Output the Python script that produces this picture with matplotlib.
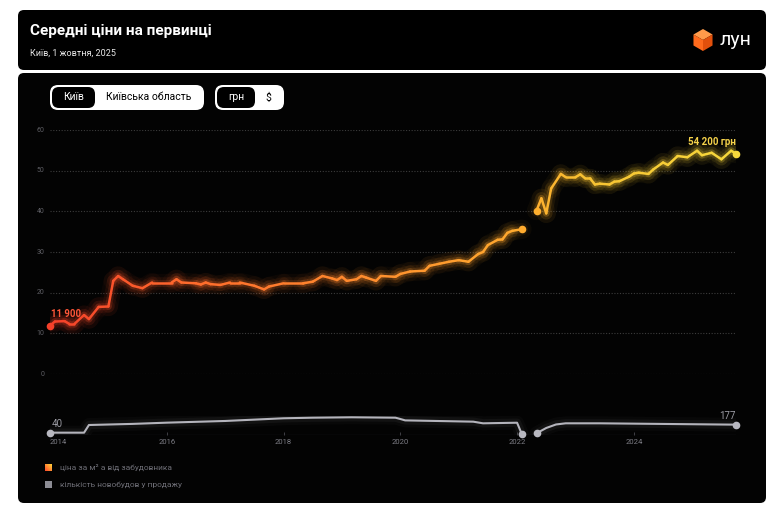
import numpy as np
import matplotlib
matplotlib.use("Agg")
from matplotlib import pyplot as plt
from matplotlib.collections import LineCollection
from matplotlib.colors import LinearSegmentedColormap
from matplotlib.patches import FancyBboxPatch, Polygon

plt.rcParams["font.family"] = ["Roboto", "DejaVu Sans"]

# price per m2, thousands UAH (two segments, gap in 2022)
price_dates_1 = ["2014-01", "2014-02", "2014-04", "2014-05", "2014-06", "2014-08", "2014-09",
                 "2014-11", "2015-01", "2015-02", "2015-03", "2015-04", "2015-06", "2015-08",
                 "2015-10", "2016-02", "2016-03", "2016-04", "2016-07", "2016-08", "2016-09",
                 "2016-10", "2016-12", "2017-02", "2017-04", "2017-07", "2017-09", "2017-10",
                 "2018-01", "2018-05", "2018-07", "2018-09", "2018-11", "2018-12", "2019-01",
                 "2019-02", "2019-04", "2019-05", "2019-06", "2019-08", "2019-09", "2019-12",
                 "2020-01", "2020-03", "2020-06", "2020-07", "2020-09", "2020-11", "2021-01",
                 "2021-03", "2021-05", "2021-06", "2021-07", "2021-09", "2021-10", "2021-11",
                 "2021-12", "2022-02"]
price_vals_1 = [11.9, 12.9, 13.0, 12.3, 12.3, 14.5, 13.5,
                16.5, 16.6, 22.9, 24.1, 23.3, 21.7, 21.1,
                22.5, 22.5, 23.3, 22.5, 22.3, 22.0, 22.5,
                22.1, 21.9, 22.5, 22.5, 21.7, 20.8, 21.5,
                22.3, 22.3, 22.7, 24.1, 23.5, 23.1, 23.9,
                22.9, 23.3, 24.1, 23.7, 22.9, 24.1, 23.9,
                24.6, 25.2, 25.4, 26.6, 27.1, 27.6, 28.0,
                27.6, 29.5, 30.0, 31.7, 33.0, 33.1, 34.7,
                35.2, 35.6]

price_dates_2 = ["2022-05", "2022-06", "2022-07", "2022-08", "2022-10", "2022-11", "2023-01",
                 "2023-02", "2023-03", "2023-04", "2023-05", "2023-06", "2023-08", "2023-09",
                 "2023-10", "2023-12", "2024-01", "2024-02", "2024-04", "2024-05", "2024-07",
                 "2024-08", "2024-10", "2024-12", "2025-02", "2025-03", "2025-05", "2025-07",
                 "2025-09", "2025-10"]
price_vals_2 = [40.2, 43.2, 39.5, 45.6, 49.2, 48.4, 48.4,
                49.1, 48.1, 48.1, 46.6, 46.8, 46.6, 47.3,
                47.4, 48.5, 49.3, 49.5, 49.2, 50.3, 52.0,
                51.4, 53.6, 53.3, 54.9, 53.8, 54.4, 52.8,
                54.9, 54.2]

# number of new buildings on sale
count_dates_1 = ["2014-01", "2014-08", "2014-09", "2015-06", "2016-01", "2017-01", "2018-01",
                 "2018-07", "2019-03", "2019-12", "2020-01", "2020-02", "2021-04", "2021-06",
                 "2022-01", "2022-02"]
count_vals_1 = [40, 40, 171, 190, 211, 240, 286, 296, 303, 296, 274, 250, 228, 200, 210, 12]
count_dates_2 = ["2022-05", "2022-07", "2022-09", "2022-11", "2023-06", "2024-06", "2025-10"]
count_vals_2 = [29, 120, 180, 200, 200, 190, 177]

years = [2014, 2016, 2018, 2020, 2022, 2024]
y_ticks = [0, 10, 20, 30, 40, 50, 60]


def to_year(dates):
    return np.array([int(d[:4]) + (int(d[5:]) - 1) / 12 for d in dates])


W, H = 782, 516
fig = plt.figure(figsize=(W / 100, H / 100), dpi=100)
fig.patch.set_facecolor("white")


def px_axes(x0, y0, x1, y1):
    # axes from pixel box (top-left origin)
    return fig.add_axes([x0 / W, 1 - y1 / H, (x1 - x0) / W, (y1 - y0) / H])


# background cards
bg = fig.add_axes([0, 0, 1, 1])
bg.set_xlim(0, W)
bg.set_ylim(H, 0)
bg.axis("off")
bg.add_patch(FancyBboxPatch((18, 10), 748, 60, boxstyle="round,pad=0,rounding_size=6",
                            fc="#000000", ec="none"))
bg.add_patch(FancyBboxPatch((18, 73), 748, 430, boxstyle="round,pad=0,rounding_size=6",
                            fc="#030303", ec="none"))
bg.text(30, 31, "Середні ціни на первинці", color="white", fontsize=11, fontweight="bold",
        va="center", ha="left")
bg.text(30, 53, "Київ, 1 жовтня, 2025", color="#e8e8e8", fontsize=6.5, va="center", ha="left")

# logo
cx, cy, r = 703, 40, 11
hexagon = [(cx + r * np.cos(np.radians(a)), cy + r * np.sin(np.radians(a)))
           for a in (-90, -30, 30, 90, 150, 210)]
bg.add_patch(Polygon([hexagon[0], hexagon[1], (cx, cy), hexagon[5]], fc="#ff9a4a", ec="none"))
bg.add_patch(Polygon([hexagon[1], hexagon[2], hexagon[3], (cx, cy)], fc="#e2500c", ec="none"))
bg.add_patch(Polygon([hexagon[5], (cx, cy), hexagon[3], hexagon[4]], fc="#ff6a1c", ec="none"))
bg.text(720, 40, "лун", color="white", fontsize=14, va="center", ha="left")

# toggles
bg.add_patch(FancyBboxPatch((50, 85), 154, 25, boxstyle="round,pad=0,rounding_size=8",
                            fc="white", ec="none"))
bg.add_patch(FancyBboxPatch((52, 87), 43, 21, boxstyle="round,pad=0,rounding_size=7",
                            fc="black", ec="none"))
bg.text(73.5, 97.5, "Київ", color="white", fontsize=7.5, ha="center", va="center")
bg.text(149, 97.5, "Київська область", color="black", fontsize=7.5, ha="center", va="center")
bg.add_patch(FancyBboxPatch((215, 85), 69, 25, boxstyle="round,pad=0,rounding_size=8",
                            fc="white", ec="none"))
bg.add_patch(FancyBboxPatch((217, 87), 38, 21, boxstyle="round,pad=0,rounding_size=7",
                            fc="black", ec="none"))
bg.text(236, 97.5, "грн", color="white", fontsize=7.5, ha="center", va="center")
bg.text(268, 97.5, "$", color="black", fontsize=7.5, ha="center", va="center")

# legend
grad = np.linspace(0, 1, 16)
bg.imshow(np.add.outer(grad[::-1], grad) / 2, cmap=LinearSegmentedColormap.from_list(
    "lg", ["#ff4a2a", "#ffd23a"]), extent=(45, 52, 471, 464), zorder=3)
bg.text(60, 467.5, "ціна за м² а від забудовника", color="#6e6e76", fontsize=6, va="center")
bg.add_patch(plt.Rectangle((45, 481), 7, 7, fc="#8c8c94", ec="none"))
bg.text(60, 484.5, "кількість новобудов у продажу", color="#6e6e76", fontsize=6, va="center")

# price chart
x0_year, x1_year = 2014.0, 2025.75
ax = px_axes(50, 130, 736, 374)
ax.set_xlim(x0_year, x1_year)
ax.set_ylim(0, 60)
ax.set_facecolor("none")
for s in ax.spines.values():
    s.set_visible(False)
ax.set_xticks([])
ax.set_yticks([])
for v in y_ticks:
    ax.axhline(v, color="#3c3c3c", lw=0.8, ls=(0, (1, 1.5)), zorder=1)
    ax.text(x0_year - 0.1, v, str(v), color="#5e5e64", fontsize=5, ha="right", va="center")

price_cmap = LinearSegmentedColormap.from_list(
    "price", [(0, "#f4402a"), (0.2, "#ff6a2c"), (0.5, "#ff922e"), (0.7, "#ffac2e"),
              (0.78, "#f8c232"), (1, "#f6d83c")])
norm = plt.Normalize(x0_year, x1_year)

for dates, vals in [(price_dates_1, price_vals_1), (price_dates_2, price_vals_2)]:
    xs = to_year(dates)
    ys = np.array(vals)
    pts = np.column_stack([xs, ys]).reshape(-1, 1, 2)
    segs = np.concatenate([pts[:-1], pts[1:]], axis=1)
    mids = (xs[:-1] + xs[1:]) / 2
    for lw, a in [(14, 0.04), (9, 0.07), (5, 0.14)]:
        glow = LineCollection(segs, cmap=price_cmap, norm=norm, linewidths=lw, alpha=a,
                              capstyle="round", joinstyle="round", zorder=2)
        glow.set_array(mids)
        ax.add_collection(glow)
    lc = LineCollection(segs, cmap=price_cmap, norm=norm, linewidths=1.8,
                        capstyle="round", joinstyle="round", zorder=3)
    lc.set_array(mids)
    ax.add_collection(lc)
    for xe, ye in [(xs[0], ys[0]), (xs[-1], ys[-1])]:
        ax.plot(xe, ye, "o", ms=5.5, color=price_cmap(norm(xe)), mec="none",
                zorder=4, clip_on=False)

first_x = to_year(price_dates_1)[0]
last_x = to_year(price_dates_2)[-1]
ax.text(first_x + 0.02, price_vals_1[0] + 1.6, "11 900", color="#ff5638", fontsize=7,
        fontweight="bold", ha="left", va="bottom")
ax.text(last_x, price_vals_2[-1] + 1.7, "54 200 грн", color="#f5d24a", fontsize=7,
        fontweight="bold", ha="right", va="bottom")

# count chart
cax = px_axes(50, 416, 736, 435)
cax.set_xlim(x0_year, x1_year)
cax.set_ylim(0, 325)
cax.set_facecolor("none")
for s in cax.spines.values():
    s.set_visible(False)
cax.set_yticks([])
cax.axhline(0, color="#4a4a50", lw=0.8, zorder=1)
cax.set_xticks(years)
cax.set_xticklabels([str(y) for y in years])
cax.tick_params(axis="x", length=2, width=0.6, color="#4a4a50", direction="in",
                labelsize=5.5, labelcolor="#7c7c84", pad=3)
cax.get_xticklabels()[0].set_ha("left")

for dates, vals in [(count_dates_1, count_vals_1), (count_dates_2, count_vals_2)]:
    xs = to_year(dates)
    for lw, a in [(10, 0.03), (6, 0.06)]:
        cax.plot(xs, vals, color="#b4b4bc", lw=lw, alpha=a, solid_capstyle="round", zorder=2)
    cax.plot(xs, vals, color="#b4b4bc", lw=1.5, zorder=3, solid_joinstyle="round")
    cax.plot([xs[0], xs[-1]], [vals[0], vals[-1]], "o", ms=5.5, color="#b8b8c0", mec="none",
             zorder=4, clip_on=False)

cx_first = to_year(count_dates_1)[0]
cx_last = to_year(count_dates_2)[-1]
cax.text(cx_first + 0.03, count_vals_1[0] + 70, "40", color="#9c9ca4", fontsize=7,
         ha="left", va="bottom")
cax.text(cx_last, count_vals_2[-1] + 60, "177", color="#9c9ca4", fontsize=7,
         ha="right", va="bottom")

fig.savefig("out.png", dpi=100, facecolor="white")
